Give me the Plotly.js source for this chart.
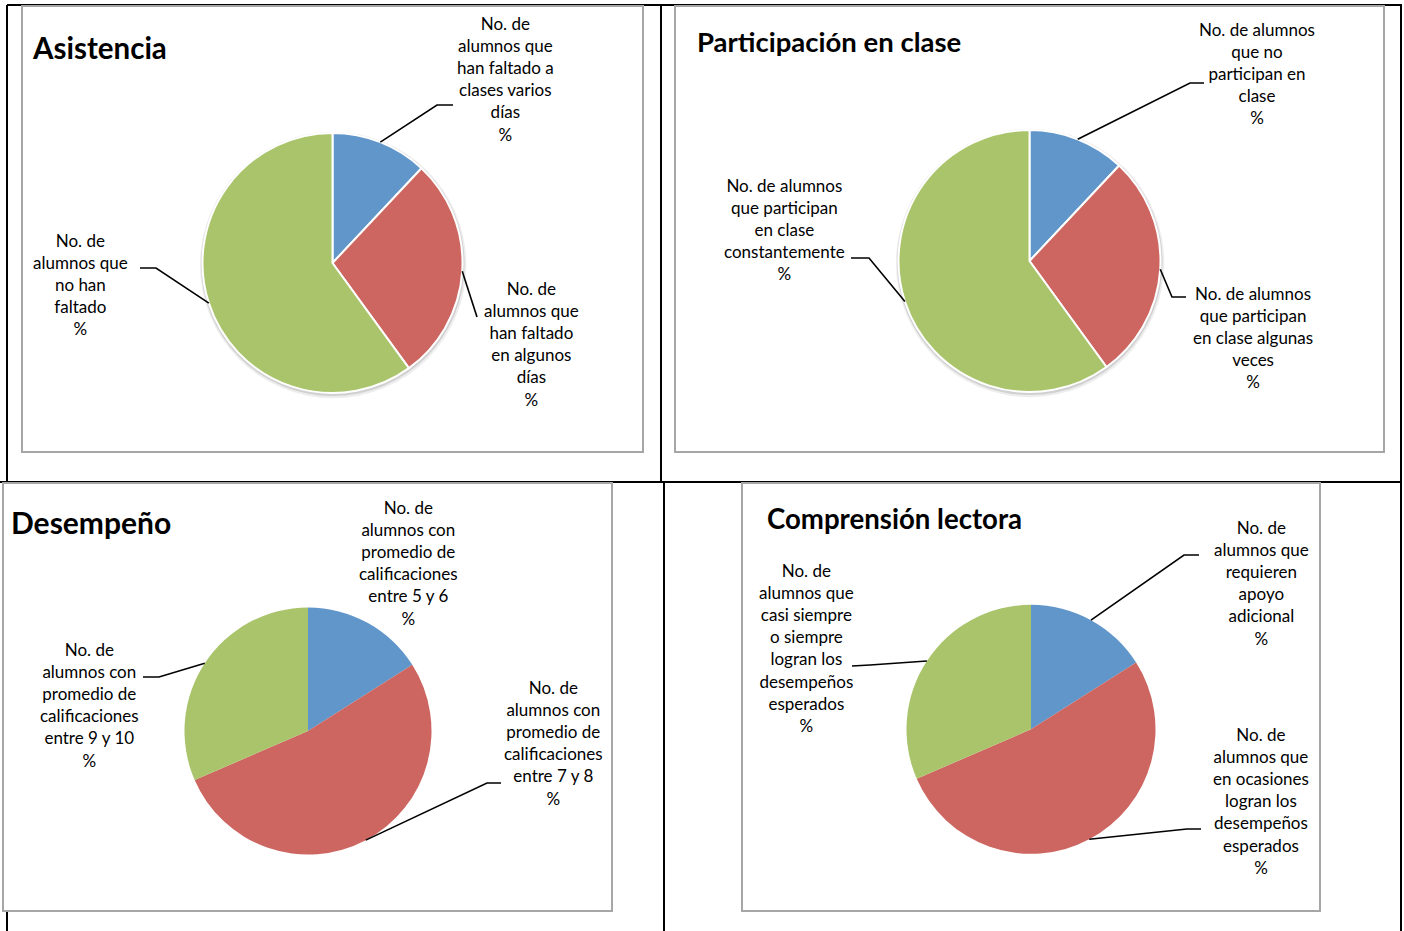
<!DOCTYPE html>
<html>
<head>
<meta charset="utf-8">
<script src="https://cdn.plot.ly/plotly-3.0.1.min.js"></script>
<style>
html,body{margin:0;padding:0;background:#fff;}
#chart{width:1404px;height:931px;}
</style>
</head>
<body>
<div id="chart"></div>
<script>
// ---------------- DATA ----------------
const chartTitles = ['Asistencia', 'Participación en clase', 'Desempeño', 'Comprensión lectora'];

const asistenciaLabels = [
  'No. de<br>alumnos que<br>han faltado a<br>clases varios<br>días',
  'No. de<br>alumnos que<br>han faltado<br>en algunos<br>días',
  'No. de<br>alumnos que<br>no han<br>faltado'
];
const asistenciaValues = [12, 28, 60];

const participacionLabels = [
  'No. de alumnos<br>que no<br>participan en<br>clase',
  'No. de alumnos<br>que participan<br>en clase algunas<br>veces',
  'No. de alumnos<br>que participan<br>en clase<br>constantemente'
];
const participacionValues = [12, 28, 60];

const desempenoLabels = [
  'No. de<br>alumnos con<br>promedio de<br>calificaciones<br>entre 5 y 6',
  'No. de<br>alumnos con<br>promedio de<br>calificaciones<br>entre 7 y 8',
  'No. de<br>alumnos con<br>promedio de<br>calificaciones<br>entre 9 y 10'
];
const desempenoValues = [16, 52.5, 31.5];

const comprensionLabels = [
  'No. de<br>alumnos que<br>requieren<br>apoyo<br>adicional',
  'No. de<br>alumnos que<br>en ocasiones<br>logran los<br>desempeños<br>esperados',
  'No. de<br>alumnos que<br>casi siempre<br>o siempre<br>logran los<br>desempeños<br>esperados'
];
const comprensionValues = [16, 52.5, 31.5];

const percentText = '%';
const sliceColors = ['#6096C9', '#CD6660', '#AAC46C'];

// ---------------- LAYOUT (pixels) ----------------
const W = 1404, H = 931;
const FONT = 'Lato, "Open Sans", sans-serif';
const px = x => x / W;
const py = y => 1 - y / H;

const charts = [
  { labels: asistenciaLabels, values: asistenciaValues, cx: 332.5, cy: 263, r: 130, border: true,
    title: [33, 47], titleSize: 29.5, box: [22, 6, 643, 452],
    labelPos: [[506, 79], [531, 344], [80, 284]],
    leaders: [[[437, 105], [453, 105]], [[477, 317]], [[156, 268], [140, 268]]] },
  { labels: participacionLabels, values: participacionValues, cx: 1029.5, cy: 261, r: 131, border: true,
    title: [698, 41], titleSize: 27.5, box: [675, 6, 1384, 452],
    labelPos: [[1257, 74], [1253, 337], [784, 229]],
    leaders: [[[1190, 83], [1204, 83]], [[1172, 297], [1186, 297]], [[869, 258], [851, 258]]] },
  { labels: desempenoLabels, values: desempenoValues, cx: 308, cy: 731, r: 123.5, border: false,
    title: [12, 522], titleSize: 30, box: [3, 483, 612, 911],
    labelPos: [[408, 563], [553, 743], [89, 705]],
    leaders: [null, [[487, 783], [501, 783]], [[159, 677], [143, 677]]] },
  { labels: comprensionLabels, values: comprensionValues, cx: 1031, cy: 729.3, r: 124.5, border: false,
    title: [768, 518], titleSize: 27.6, box: [742, 483, 1320, 911],
    labelPos: [[1261, 583], [1261, 801], [807, 648]],
    leaders: [[[1184, 555], [1199, 555]], [[1187, 829], [1201, 829]], [[870, 665], [852, 666]]] }
];

const traces = [];
const shapes = [];
const annotations = [];

// table grid lines (black)
const gridLines = [
  [7, 5, 1402, 5], [7, 5, 7, 931], [661, 5, 661, 482], [0, 482, 1402, 482],
  [664, 482, 664, 931], [1401, 5, 1401, 931]
];
gridLines.forEach(g => shapes.push({
  type: 'line', xref: 'paper', yref: 'paper', layer: 'below',
  x0: px(g[0]), y0: py(g[1]), x1: px(g[2]), y1: py(g[3]),
  line: { color: '#000', width: 2 }
}));

charts.forEach((c, i) => {
  // chart frame
  shapes.push({
    type: 'rect', xref: 'paper', yref: 'paper', layer: 'below',
    x0: px(c.box[0]), y0: py(c.box[3]), x1: px(c.box[2]), y1: py(c.box[1]),
    fillcolor: '#fff', line: { color: '#A6A6A6', width: 2 }
  });
  // soft shadow for the bordered pies
  if (c.border) {
    [[3.2, 0.6, 2.0, 0.07], [1.8, 0.3, 1.2, 0.12]].forEach(s => {
      const rr = c.r + s[0];
      shapes.push({
        type: 'circle', xref: 'paper', yref: 'paper', layer: 'below',
        x0: px(c.cx + s[1] - rr), x1: px(c.cx + s[1] + rr),
        y0: py(c.cy + s[2] + rr), y1: py(c.cy + s[2] - rr),
        fillcolor: 'rgba(0,0,0,' + s[3] + ')', line: { width: 0 }
      });
    });
  }
  traces.push({
    type: 'pie', values: c.values, labels: c.labels,
    sort: false, direction: 'clockwise', rotation: 0,
    textinfo: 'none', hoverinfo: 'none', showlegend: false,
    marker: { colors: sliceColors, line: { color: '#fff', width: c.border ? 2 : 0 } },
    domain: { x: [px(c.cx - c.r), px(c.cx + c.r)], y: [py(c.cy + c.r), py(c.cy - c.r)] }
  });
  // title
  annotations.push({
    xref: 'paper', yref: 'paper', x: px(c.title[0]), y: py(c.title[1]),
    xanchor: 'left', yanchor: 'middle', showarrow: false, xshift: -3,
    text: '<b>' + chartTitles[i] + '</b>',
    font: { family: FONT, size: c.titleSize, color: '#000' }
  });
  // data labels + leader lines
  const total = c.values.reduce((a, b) => a + b, 0);
  let cum = 0;
  c.values.forEach((v, k) => {
    const mid = (cum + v / 2) / total * 2 * Math.PI;
    cum += v;
    annotations.push({
      xref: 'paper', yref: 'paper', x: px(c.labelPos[k][0]), y: py(c.labelPos[k][1]),
      xanchor: 'center', yanchor: 'middle', align: 'center', showarrow: false,
      text: c.labels[k] + '<br>' + percentText,
      font: { family: FONT, size: 17, color: '#000' }
    });
    const pts = c.leaders[k];
    if (pts) {
      const sx = c.cx + c.r * Math.sin(mid);
      const sy = c.cy - c.r * Math.cos(mid);
      let path = 'M ' + px(sx) + ' ' + py(sy);
      pts.forEach(p => { path += ' L ' + px(p[0]) + ' ' + py(p[1]); });
      shapes.push({
        type: 'path', xref: 'paper', yref: 'paper', layer: 'above', path: path,
        line: { color: '#000', width: 1.6 }
      });
    }
  });
});

const layout = {
  width: W, height: H,
  margin: { l: 0, r: 0, t: 0, b: 0 },
  paper_bgcolor: '#fff',
  showlegend: false,
  shapes: shapes,
  annotations: annotations,
  font: { family: FONT }
};

Plotly.newPlot('chart', traces, layout, { staticPlot: true, displayModeBar: false });
</script>
</body>
</html>
